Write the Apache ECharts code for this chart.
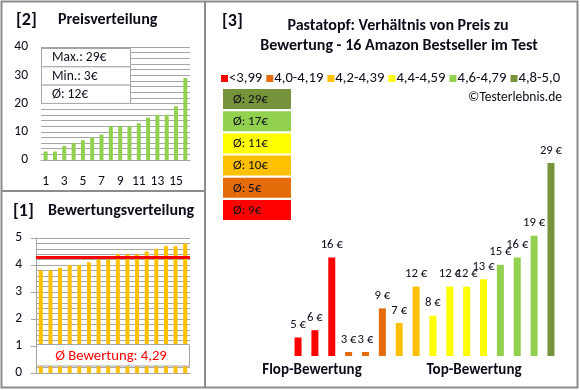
<!DOCTYPE html>
<html><head><meta charset="utf-8">
<script src="https://cdn.jsdelivr.net/npm/echarts@6/dist/echarts.min.js"></script>
<style>html,body{margin:0;padding:0;background:#fff}#c{width:580px;height:390px}</style>
</head><body><div id="c"></div>
<script>
// ---- data ----
const priceCats = ['1','2','3','4','5','6','7','8','9','10','11','12','13','14','15','16'];
const pricesSorted = [3,3,5,6,7,8,9,12,12,12,13,15,16,16,19,29];
const ratingsSorted = [3.8,3.8,3.9,4.0,4.0,4.1,4.2,4.2,4.4,4.4,4.4,4.5,4.6,4.7,4.7,4.8];
const ratingAvg = 4.29;
const groupNames = ['<3,99','4,0-4,19','4,2-4,39','4,4-4,59','4,6-4,79','4,8-5,0'];
const productPrices = [5,6,16,3,3,9,7,12,8,12,12,13,15,16,19,29];
const productGroup = [0,0,0,1,1,1,2,2,3,3,3,3,4,4,4,5];
const groupAvg = [9,5,10,11,17,29];

// ---- styles ----
const FONT = "Carlito, 'Liberation Sans', sans-serif";
const groupColors = ['#FF0000','#E46C0A','#FFC000','#FFFF00','#92D050','#77933C'];
const gridCol = '#A6A6A6';
const txt = '#0d0d1a';

const pMax = Math.max(...pricesSorted), pMin = Math.min(...pricesSorted);
const pAvg = Math.round(pricesSorted.reduce((a,b)=>a+b,0)/pricesSorted.length);

const chart = echarts.init(document.getElementById('c'), null, {renderer:'canvas'});

const series3 = groupNames.map((name, g) => ({
  name, type:'bar', xAxisIndex:2, yAxisIndex:2, stack:'all', barWidth:7,
  itemStyle:{color:groupColors[g]},
  label:{show:true, position:'top', distance:6, formatter:'{c} €', color:txt, fontSize:12.7, fontFamily:FONT},
  data: productPrices.map((v,i)=> productGroup[i]===g ? v : null)
}));

const g = [];
// panel borders
g.push({type:'rect', shape:{x:1.5,y:1.5,width:576,height:386}, style:{fill:null, stroke:'#8c8c8c', lineWidth:2}, z:200});
g.push({type:'line', shape:{x1:205,y1:1,x2:205,y2:388}, style:{stroke:'#8c8c8c', lineWidth:2}, z:200});
g.push({type:'line', shape:{x1:1,y1:191,x2:205,y2:191}, style:{stroke:'#8c8c8c', lineWidth:2}, z:200});
// titles
const tstyle = (t,x,y,size,align,color,weight) => ({type:'text', x, y, z:200, style:{text:t, fill:color||txt, font:(weight||'bold')+' '+size+'px '+FONT, textAlign:align||'left', textVerticalAlign:'middle'}});
g.push(tstyle('[2]',16,20,18));
g.push(tstyle('Preisverteilung',58,20,16));
g.push(tstyle('[1]',13,211,18));
g.push(tstyle('Bewertungsverteilung',48,211,16));
g.push(tstyle('[3]',222,21,18));
g.push(tstyle('Pastatopf: Verhältnis von Preis zu',398,26,16,'center'));
g.push(tstyle('Bewertung - 16 Amazon Bestseller im Test',399,46,16,'center'));
g.push(tstyle('©Testerlebnis.de',562,98,13.5,'right',txt,'normal'));
// price info box
const boxLabels = ['Max.: '+pMax+'€','Min.: '+pMin+'€','Ø: '+pAvg+'€'];
boxLabels.forEach((t,i)=>{
  g.push({type:'rect', z:150, shape:{x:41.5,y:48.5+i*18.3,width:89,height:18.3}, style:{fill:'#fff', stroke:'#A6A6A6', lineWidth:1}});
  g.push(Object.assign(tstyle(t,52,58+i*18.3,13.5,'left',txt,'normal'),{z:151}));
});
// rating avg box
g.push({type:'rect', z:150, shape:{x:36.5,y:344.5,width:153,height:21.5}, style:{fill:'#fff', stroke:'#A6A6A6', lineWidth:1}});
g.push(Object.assign(tstyle('Ø Bewertung: '+ratingAvg.toFixed(2).replace('.',','),111,356,14.7,'center','#FF0000','normal'),{z:151}));
// group averages boxes (top group first)
for (let k=0;k<6;k++){
  const gi = 5-k;
  const y = 89 + k*22.2;
  g.push({type:'rect', z:150, shape:{x:223,y:y,width:68,height:20}, style:{fill:groupColors[gi]}});
  g.push(Object.assign(tstyle('Ø: '+groupAvg[gi]+'€',233,y+10.5,13,'left',txt,'normal'),{z:151}));
}
g.push(tstyle('Flop-Bewertung',312,370,15,'center'));
g.push(tstyle('Top-Bewertung',474,370,15,'center'));

chart.setOption({
  animation:false,
  backgroundColor:'#fff',
  textStyle:{fontFamily:FONT},
  legend:{
    left:221, top:71, itemWidth:7, itemHeight:7, itemGap:4, icon:'rect', padding:0,
    textStyle:{fontSize:14.7, color:txt, fontFamily:FONT, padding:[0,0,0,-4]},
    data:groupNames
  },
  grid:[
    {left:41, right:390, top:47, bottom:230},
    {left:36, right:390, top:238, bottom:17},
    {left:289.6, right:20.6, top:141.2, bottom:34}
  ],
  xAxis:[
    {gridIndex:0, type:'category', data:priceCats, axisLine:{lineStyle:{color:gridCol}}, axisTick:{show:false},
     axisLabel:{interval:1, margin:15, color:txt, fontSize:13.5, fontFamily:FONT}},
    {gridIndex:1, type:'category', data:priceCats, axisLine:{lineStyle:{color:gridCol}}, axisTick:{show:false}, axisLabel:{show:false}},
    {gridIndex:2, type:'category', data:priceCats, axisLine:{show:false}, axisTick:{show:false}, axisLabel:{show:false}}
  ],
  yAxis:[
    {gridIndex:0, type:'value', min:0, max:40, interval:10, axisLine:{show:false}, axisTick:{show:false},
     axisLabel:{margin:13, color:txt, fontSize:13.5, fontFamily:FONT},
     splitLine:{lineStyle:{color:gridCol}}, minorSplitLine:{show:true, lineStyle:{color:gridCol}}, minorTick:{show:false, splitNumber:5}},
    {gridIndex:1, type:'value', min:0, max:5, interval:1, axisLine:{show:true, lineStyle:{color:gridCol}},
     axisTick:{show:true, length:5, lineStyle:{color:gridCol}},
     axisLabel:{margin:14, color:txt, fontSize:13.5, fontFamily:FONT},
     splitLine:{lineStyle:{color:gridCol}}, minorSplitLine:{show:true, lineStyle:{color:gridCol}}, minorTick:{show:false, splitNumber:5}},
    {gridIndex:2, type:'value', min:2.45, max:32, axisLine:{show:false}, axisTick:{show:false}, axisLabel:{show:false}, splitLine:{show:false}}
  ],
  series:[
    {type:'bar', xAxisIndex:0, yAxisIndex:0, barWidth:4, itemStyle:{color:'#92D050'}, data:pricesSorted},
    {type:'bar', xAxisIndex:1, yAxisIndex:1, barWidth:4, itemStyle:{color:'#FFC000'}, data:ratingsSorted,
     markLine:{silent:true, symbol:'none', label:{show:false}, lineStyle:{color:'#FF0000', width:3, type:'solid'}, data:[{yAxis:ratingAvg}]}},
    ...series3
  ],
  graphic:g
});
</script></body></html>
